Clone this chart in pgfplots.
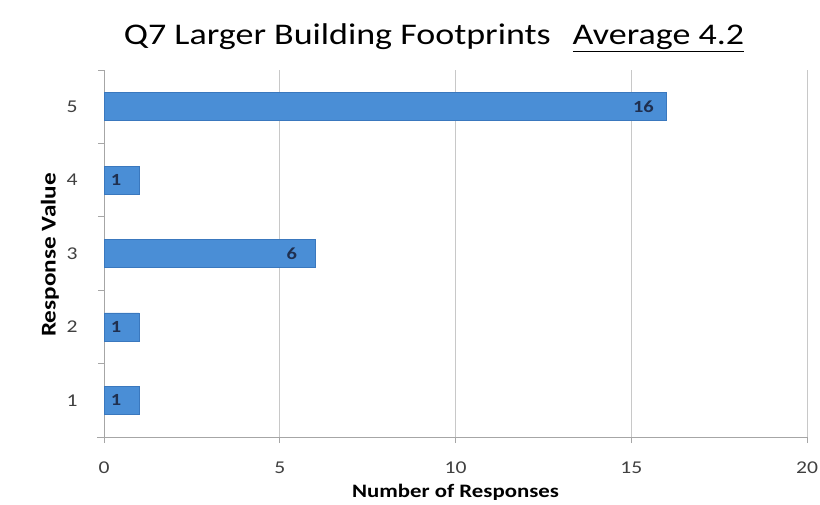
\documentclass[border=0pt]{standalone}
\usepackage{pgfplots}
\pgfplotsset{compat=1.18}
\usepackage{fontspec}
\setmainfont{Carlito}[FakeStretch=1.2]
\definecolor{barblue}{HTML}{4A8ED6}
\definecolor{baredge}{HTML}{3A78BE}
\definecolor{gridgray}{HTML}{C8C8C8}
\definecolor{ticktext}{HTML}{404040}
\definecolor{lbltext}{HTML}{1F2F4F}
\begin{document}
\begin{tikzpicture}
\path[use as bounding box] (-104bp,-68bp) rectangle (716bp,437bp);
\begin{axis}[
  at={(0,0)}, anchor=south west,
  scale only axis, width=703bp, height=367bp,
  xbar, bar width=28bp,
  xmin=0, xmax=20, ymin=0.5, ymax=5.5,
  xtick={0,5,10,15,20},
  ytick={1,2,3,4,5},
  minor ytick={0.5,1.5,2.5,3.5,4.5,5.5},
  axis x line*=bottom, axis y line*=left,
  axis line style={gray!70, line width=0.8pt},
  every outer x axis line/.append style={-},
  every outer y axis line/.append style={-},
  xmajorgrids, major grid style={gridgray, line width=0.6pt},
  major x tick style={gray!70, line width=0.8pt},
  major y tick style={draw=none},
  minor y tick style={gray!70, line width=0.8pt},
  tick align=outside,
  major tick length=6bp, minor tick length=6bp,
  /pgf/number format/assume math mode=true,
  ticklabel style={font=\fontsize{18bp}{20bp}\selectfont, text=ticktext},
  xticklabel style={anchor=center, yshift=-25bp},
  yticklabel style={anchor=center, xshift=-26bp},
  nodes near coords,
  point meta=x,
  every node near coord/.append style={anchor=center, xshift=-23bp, font=\fontsize{17bp}{19bp}\selectfont\bfseries, text=lbltext},
  clip=false,
]
\addplot[fill=barblue, draw=baredge, line width=0.5pt] coordinates {
  (1,1) (1,2) (6,3) (1,4) (16,5)
};
\end{axis}
\draw[gray!70, line width=0.8pt] (-7bp,0) -- (0,0);
\node[font=\fontsize{19bp}{21bp}\selectfont\bfseries] at (351.5bp,-55bp) {Number of Responses};
\node[font=\fontsize{21bp}{23bp}\selectfont\bfseries, rotate=90] at (-54bp,182bp) {Response Value};
\node[font=\fontsize{30bp}{34bp}\selectfont] at (330bp,399bp) {Q7 Larger Building Footprints\hspace{22bp}\underline{Average 4.2}};
\end{tikzpicture}
\end{document}
